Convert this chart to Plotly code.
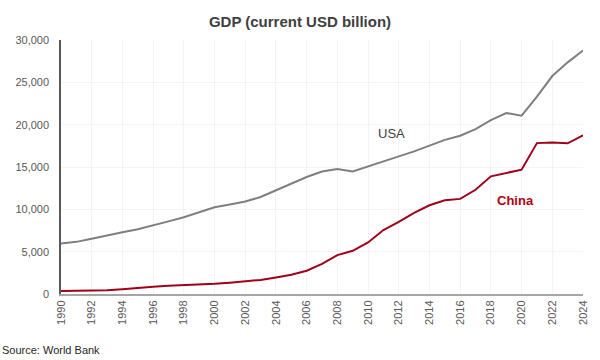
import plotly.graph_objects as go

years = list(range(1990, 2025))
usa = [5963, 6158, 6520, 6859, 7287, 7640, 8073, 8578, 9063, 9631,
       10251, 10582, 10929, 11457, 12217, 13039, 13816, 14474, 14770, 14478,
       15049, 15600, 16254, 16843, 17551, 18206, 18695, 19477, 20533, 21381,
       21060, 23315, 25744, 27361, 28750]
china = [361, 383, 427, 445, 564, 734, 864, 962, 1029, 1094,
         1211, 1339, 1471, 1660, 1955, 2286, 2752, 3550, 4594, 5102,
         6087, 7552, 8532, 9570, 10476, 11062, 11233, 12310, 13895, 14280,
         14688, 17820, 17882, 17795, 18744]
tick_years = list(range(1990, 2025, 2))
y_ticks = [0, 5000, 10000, 15000, 20000, 25000, 30000]

fig = go.Figure()
fig.add_trace(go.Scatter(x=years, y=usa, mode="lines", name="USA",
                         line=dict(color="#7f7f7f", width=2)))
fig.add_trace(go.Scatter(x=years, y=china, mode="lines", name="China",
                         line=dict(color="#a0001a", width=2)))

fig.add_annotation(x=2011.5, y=19000, text="USA", showarrow=False,
                   font=dict(family="Liberation Sans, Arial", size=13, color="#404040"))
fig.add_annotation(x=2019.6, y=11000, text="<b>China</b>", showarrow=False,
                   font=dict(family="Liberation Sans, Arial", size=13, color="#b00010"))
fig.add_annotation(x=0, y=0, xref="paper", yref="paper", yanchor="bottom", xanchor="left",
                   xshift=-61, yshift=-64, text="Source: World Bank", showarrow=False,
                   font=dict(family="Liberation Sans, Arial", size=11, color="#262626"))

fig.update_layout(
    width=600, height=360,
    margin=dict(l=61, r=11, t=40, b=66),
    paper_bgcolor="white", plot_bgcolor="white",
    showlegend=False,
    title=dict(text="<b>GDP (current USD billion)</b>", x=0.5, xanchor="center",
               y=0.94, yanchor="middle",
               font=dict(family="Liberation Sans, Arial", size=15, color="#404040")),
    font=dict(family="Liberation Sans, Arial", size=11, color="#595959"),
)
fig.update_xaxes(range=[1990, 2024], tickvals=tick_years, ticktext=[str(y) for y in tick_years],
                 tickangle=-90, showline=True, linecolor="#a6a6a6", linewidth=2,
                 showgrid=True, gridcolor="#f4f4f4", zeroline=False, ticks="",
                 tickfont=dict(size=11, color="#595959"))
fig.update_yaxes(range=[0, 30000], tickvals=y_ticks, ticktext=[f"{v:,}" for v in y_ticks],
                 showline=True, linecolor="#595959", linewidth=1.5,
                 showgrid=True, gridcolor="#f4f4f4", zeroline=False, ticks="",
                 ticklabelstandoff=8, tickfont=dict(size=11, color="#595959"))

fig.write_html("out.html", config={"displayModeBar": False},
               post_script="document.body.style.margin='0';")
